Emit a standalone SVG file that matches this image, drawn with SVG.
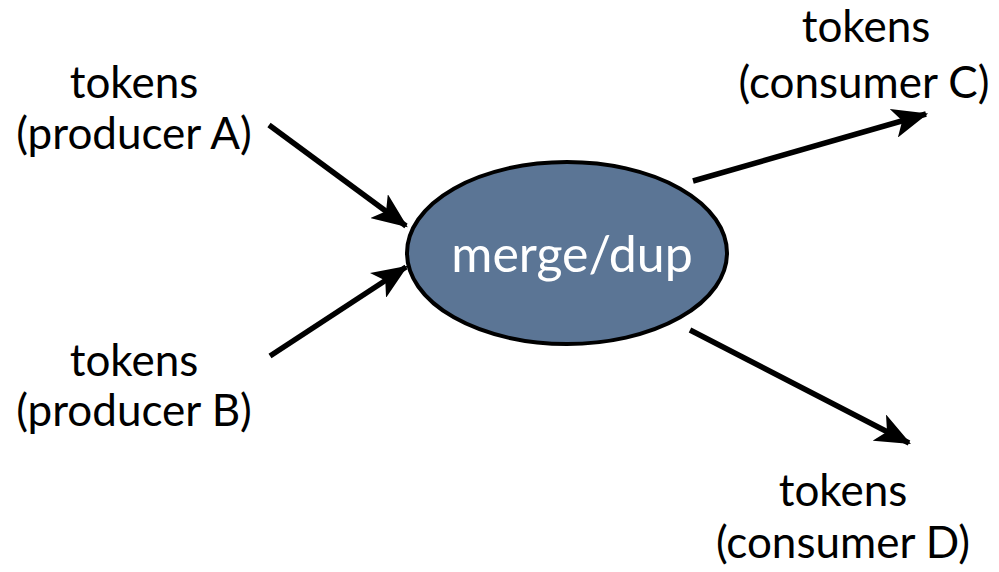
<svg xmlns="http://www.w3.org/2000/svg" width="999" height="572" viewBox="0 0 999 572">
  <style>
    .label { font-family: Lato, "Open Sans", "Liberation Sans", sans-serif; font-size: 44px; fill: #000; text-anchor: middle; }
    .node-text { font-family: Lato, "Open Sans", "Liberation Sans", sans-serif; font-size: 50px; fill: #fff; text-anchor: middle; }
    .edge { stroke: #000; stroke-width: 5.5; fill: none; marker-end: url(#arrow); }
  </style>
  <defs>
    <marker id="arrow" markerWidth="6.5" markerHeight="5.4" refX="6.1" refY="2.7" orient="auto" markerUnits="strokeWidth">
      <path d="M0,0 L6.5,2.7 L0,5.4 L1.6,2.7 Z" fill="#000"/>
    </marker>
  </defs>
  <rect width="999" height="572" fill="#fff"/>

  <g id="connectors">
    <line class="edge" x1="269" y1="125" x2="406" y2="226"/>
    <line class="edge" x1="270" y1="356" x2="406" y2="267"/>
    <line class="edge" x1="693" y1="181" x2="926" y2="114"/>
    <line class="edge" x1="690" y1="330" x2="909" y2="443"/>
  </g>

  <g id="merge-dup">
    <ellipse cx="567" cy="253" rx="160" ry="91" fill="#5b7595" stroke="#000" stroke-width="4"/>
    <text class="node-text" x="572" y="272">merge/dup</text>
  </g>

  <g id="producer-a">
    <text class="label" x="134" y="98">tokens</text>
    <text class="label" x="134" y="149">(producer A)</text>
  </g>

  <g id="producer-b">
    <text class="label" x="134" y="376">tokens</text>
    <text class="label" x="134" y="426">(producer B)</text>
  </g>

  <g id="consumer-c">
    <text class="label" x="866" y="42">tokens</text>
    <text class="label" x="864" y="98">(consumer C)</text>
  </g>

  <g id="consumer-d">
    <text class="label" x="843" y="506">tokens</text>
    <text class="label" x="843" y="558">(consumer D)</text>
  </g>
</svg>
